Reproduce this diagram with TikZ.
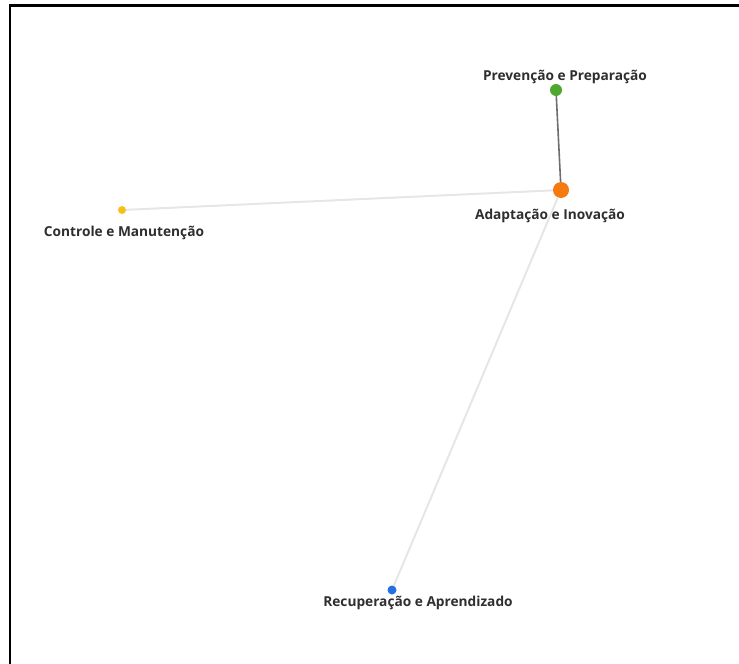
\documentclass[tikz,border=0pt]{standalone}
\usepackage{fontspec}
\setmainfont{Open Sans}
\definecolor{prevgreen}{HTML}{4EA72E}
\definecolor{adaptorange}{HTML}{F57A10}
\definecolor{ctrlyellow}{HTML}{F2C21A}
\definecolor{recblue}{HTML}{2472E0}
\definecolor{edgelight}{HTML}{E6E6E6}
\definecolor{edgedark}{HTML}{6E6E6E}
\definecolor{lbl}{HTML}{2E2E2E}
\begin{document}
\begin{tikzpicture}[x=1pt, y=-1pt,
  dot/.style={circle, inner sep=0pt},
  lab/.style={font=\fontsize{13.7}{15}\selectfont\bfseries, text=lbl, inner sep=0pt}]
\useasboundingbox (0,0) rectangle (739,664);
\draw[line width=2.5pt] (739,5.5) -- (10,5.5) -- (10,664);
% nodes
\node (prev)[dot, fill=prevgreen, minimum size=12pt] at (556,90) {};
\node (adapt)[dot, fill=adaptorange, minimum size=16pt] at (561,190) {};
\node (ctrl)[dot, fill=ctrlyellow, minimum size=8pt] at (122,210) {};
\node (rec)[dot, fill=recblue, minimum size=9pt] at (392,590) {};
% labels
\node (prevlbl)[lab] at (565,77) {Prevenção e Preparação};
\node (adaptlbl)[lab] at (550,216) {Adaptação e Inovação};
\node (ctrllbl)[lab] at (124,233) {Controle e Manutenção};
\node (reclbl)[lab] at (418,603) {Recuperação e Aprendizado};
% edges
\draw[edgelight, line width=2pt] (ctrl) -- (adapt);
\draw[edgelight, line width=2pt] (rec) -- (adapt);
\draw[edgedark, line width=1.6pt] (prev) -- (adapt);
\end{tikzpicture}
\end{document}
